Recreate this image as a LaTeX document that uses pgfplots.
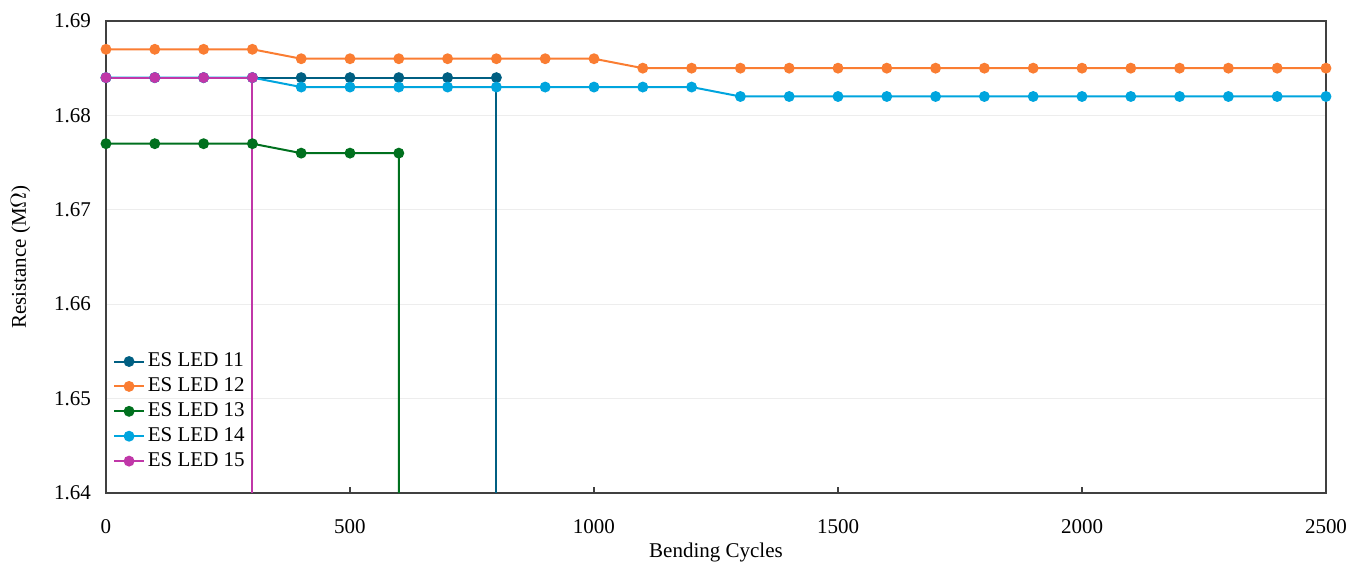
\documentclass[border=0pt]{standalone}
\usepackage{pgfplots}
\pgfplotsset{compat=1.18}
\usepackage{fontspec}
\setmainfont{Liberation Serif}
\definecolor{cA}{RGB}{0,95,130}
\definecolor{cB}{RGB}{250,125,50}
\definecolor{cC}{RGB}{0,112,30}
\definecolor{cD}{RGB}{0,165,222}
\definecolor{cE}{RGB}{192,55,168}
\definecolor{axc}{RGB}{64,64,64}
\begin{document}
\begin{tikzpicture}
\useasboundingbox (-53pt,-39.5pt) rectangle (625.5pt,246.5pt);
\begin{axis}[
  at={(0,0)}, anchor=south west,
  scale only axis, width=610pt, height=236pt,
  xmin=0, xmax=2500, ymin=1.64, ymax=1.69,
  xtick={0,500,...,2500}, ytick={1.64,1.65,...,1.69},
  xticklabel style={/pgf/number format/1000 sep={}},
  yticklabel style={/pgf/number format/fixed,/pgf/number format/fixed zerofill,/pgf/number format/precision=2},
  /pgf/number format/assume math mode=true,
  scaled y ticks=false,
  ymajorgrids, grid style={draw=black!7, line width=0.6pt},
  axis line style={draw=axc, line width=0.8pt},
  tick style={draw=axc, line width=0.6pt},
  xtick pos=bottom, ytick style={draw=none},
  tick align=inside, major tick length=3pt,
  font=\fontsize{10.5}{12}\selectfont,
  tick label style={font=\fontsize{10.5}{12}\selectfont},
  xticklabel style={yshift=-9.5pt},
  yticklabel style={xshift=-4pt},
  xlabel={Bending Cycles}, ylabel={Resistance (M$\Omega$)},
  xlabel style={yshift=2pt},
  ylabel style={yshift=5pt},
  every axis plot/.append style={line width=1pt, mark=*, mark size=2.2pt},
  legend style={at={(rel axis cs:0.004,0.31)}, anchor=north west, draw=none, fill=none,
    font=\fontsize{10.5}{12}\selectfont, row sep=0pt,
    inner sep=1pt, nodes={inner xsep=1.5pt}},
  legend cell align=left,
  legend image code/.code={\draw[#1,mark repeat=2,mark phase=2] plot coordinates {(0cm,0cm) (0.26cm,0cm) (0.52cm,0cm)};},
  clip mode=global,
]
\addplot[color=cA, mark options={fill=cA,draw=cA}] coordinates {
(0,1.684)(100,1.684)(200,1.684)(300,1.684)(400,1.684)(500,1.684)(600,1.684)(700,1.684)(800,1.684)(800,1.5)};
\addlegendentry{ES LED 11}
\addplot[color=cB, mark options={fill=cB,draw=cB}] coordinates {
(0,1.687)(100,1.687)(200,1.687)(300,1.687)(400,1.686)(500,1.686)(600,1.686)(700,1.686)(800,1.686)(900,1.686)(1000,1.686)
(1100,1.685)(1200,1.685)(1300,1.685)(1400,1.685)(1500,1.685)(1600,1.685)(1700,1.685)(1800,1.685)(1900,1.685)(2000,1.685)(2100,1.685)(2200,1.685)(2300,1.685)(2400,1.685)(2500,1.685)};
\addlegendentry{ES LED 12}
\addplot[color=cC, mark options={fill=cC,draw=cC}] coordinates {
(0,1.677)(100,1.677)(200,1.677)(300,1.677)(400,1.676)(500,1.676)(600,1.676)(600,1.5)};
\addlegendentry{ES LED 13}
\addplot[color=cD, mark options={fill=cD,draw=cD}] coordinates {
(0,1.684)(100,1.684)(200,1.684)(300,1.684)(400,1.683)(500,1.683)(600,1.683)(700,1.683)(800,1.683)(900,1.683)(1000,1.683)(1100,1.683)(1200,1.683)
(1300,1.682)(1400,1.682)(1500,1.682)(1600,1.682)(1700,1.682)(1800,1.682)(1900,1.682)(2000,1.682)(2100,1.682)(2200,1.682)(2300,1.682)(2400,1.682)(2500,1.682)};
\addlegendentry{ES LED 14}
\addplot[color=cE, mark options={fill=cE,draw=cE}] coordinates {
(0,1.684)(100,1.684)(200,1.684)(300,1.684)(300,1.5)};
\addlegendentry{ES LED 15}
\end{axis}
\end{tikzpicture}
\end{document}
